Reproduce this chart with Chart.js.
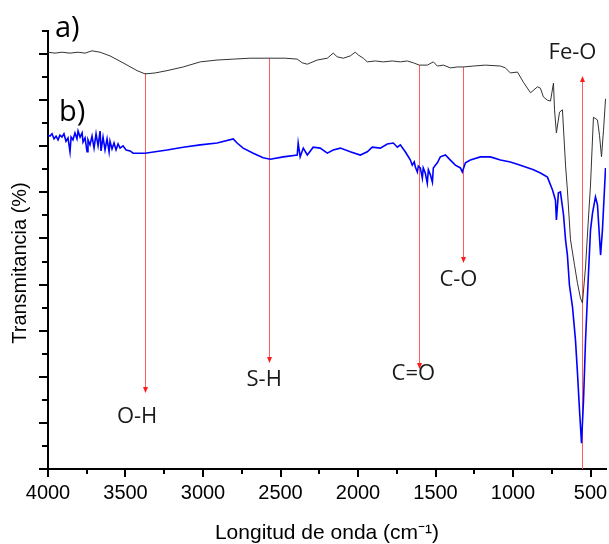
<!DOCTYPE html>
<html><head><meta charset="utf-8">
<script src="https://cdn.jsdelivr.net/npm/chart.js@4.4.0/dist/chart.umd.min.js"></script>
<style>html,body{margin:0;padding:0;background:#fff}#wrap{width:609px;height:544px}</style>
</head><body><div id="wrap"><canvas id="c" width="609" height="544"></canvas></div>
<script>
// ---- data ----
const xTickValues = [4000,3500,3000,2500,2000,1500,1000,500];
const xMinorTicks = [3750,3250,2750,2250,1750,1250,750];
const yMajorTicks = [0,10,20,30,40,50,60,70,80,90];
const yMinorTicks = [5,15,25,35,45,55,65,75,85,95];
const seriesLabels = ['a)','b)'];

// spectrum a) (black)
const wnA = [4000,3955,3910,3858,3806,3761,3716,3664,3632,3600,3516,3425,3374,3309,3232,3128,3018,2909,2805,2696,2573,2470,2392,2360,2327,2263,2198,2160,2134,2095,2050,2018,1998,1966,1940,1888,1837,1779,1727,1682,1643,1604,1553,1514,1488,1449,1404,1359,1320,1256,1178,1081,1049,1017,971,933,887,842,823,804,778,758,739,732,720,700,681,661,649,629,603,584,565,552,532,519,500,481,455,442,429,416,403];
const tA  = [90.4,90.2,90.4,90.2,90.4,90.2,90.7,90.4,90.0,89.6,88.1,86.4,85.7,85.9,86.4,87.2,88.3,88.7,88.9,89.1,89.1,89.1,88.9,88.1,87.8,88.7,89.1,90.2,89.4,89.1,89.6,90.4,89.8,89.1,88.3,88.5,88.3,88.5,88.3,88.5,88.1,87.6,87.6,88.3,87.4,87.6,87.0,87.2,87.2,87.4,87.6,87.4,87.0,85.9,86.1,83.9,81.6,82.9,82.6,80.7,80.0,79.8,83.7,77.9,72.9,77.4,77.9,65.9,60.5,49.7,44.2,40.3,37.1,36.0,43.8,51.2,61.6,76.3,75.7,72.4,67.7,73.5,80.3];

// spectrum b) (blue)
const wnB = [4000,3987,3974,3961,3948,3935,3923,3910,3897,3884,3871,3858,3851,3839,3826,3813,3806,3793,3780,3774,3761,3748,3742,3729,3716,3703,3690,3677,3664,3658,3645,3632,3619,3606,3600,3587,3574,3561,3548,3535,3516,3496,3470,3451,3374,3232,3128,3018,2909,2805,2780,2741,2676,2612,2566,2482,2392,2386,2373,2353,2327,2289,2244,2198,2160,2114,2050,1985,1940,1908,1856,1811,1772,1746,1727,1695,1662,1650,1637,1630,1617,1611,1598,1585,1579,1566,1553,1546,1533,1520,1514,1501,1488,1469,1436,1404,1372,1339,1327,1307,1275,1210,1146,1081,1017,952,868,823,778,745,726,720,707,694,674,661,649,636,616,597,584,571,558,545,532,513,500,487,468,455,435,423,403];
const tB  = [72.4,72.2,72.7,71.6,72.2,71.4,72.4,72.0,72.7,71.1,71.8,68.8,72.0,71.4,72.9,71.6,73.3,72.0,72.9,70.9,71.8,68.8,71.4,70.3,72.2,69.6,72.7,70.1,73.3,69.0,72.0,69.2,71.6,68.8,71.1,69.4,70.7,69.2,70.5,69.6,70.1,69.2,69.0,68.5,68.5,69.2,69.8,70.3,70.7,71.6,70.7,69.6,68.5,67.5,67.2,67.7,68.1,70.7,67.7,69.6,68.1,69.8,69.6,68.5,69.2,69.6,68.8,68.1,68.8,69.8,69.6,70.5,70.7,69.8,70.3,68.8,67.0,65.9,66.6,65.5,64.4,65.7,65.3,63.1,65.3,64.2,62.0,64.9,63.8,62.2,65.3,65.9,66.4,67.7,68.1,67.0,65.9,65.3,64.4,66.4,67.0,67.7,67.7,67.0,66.6,65.9,64.9,64.2,63.3,60.5,58.3,54.0,59.9,60.1,55.1,49.7,46.4,39.9,35.1,28.0,20.8,12.8,5.6,15.0,28.0,42.5,51.8,55.5,59.0,57.3,46.4,51.8,65.3];

// band assignments (arrows)
const bandLabels = ['O-H','S-H','C=O','C-O','Fe-O'];
const bandWn     = [3374, 2573, 1604, 1320, 558];
const bandFrom   = [85.9, 89.1, 87.6, 87.2, 0];
const bandTo     = [16.7, 23.2, 21.9, 44.9, 85.0];
const bandLabelWn = [3425, 2605, 1643, 1352, 616];
const bandLabelT  = [11.3, 19.3, 20.6, 41.0, 90.2];
const seriesLabelWn = [3955, 3929];
const seriesLabelT  = [93.7, 75.5];

const toXY = (xs, ys) => xs.map((x, i) => ({x: x, y: ys[i]}));

const decor = {
  id: 'decor',
  beforeDatasetsDraw(chart) {
    const {ctx, scales: {x, y}} = chart;
    ctx.save();
    for (let i = 0; i < bandWn.length; i++) {
      const px = Math.round(x.getPixelForValue(bandWn[i])) + 0.5;
      const y0 = y.getPixelForValue(bandFrom[i]);
      const y1 = y.getPixelForValue(bandTo[i]);
      ctx.strokeStyle = '#ff5c5c';
      ctx.lineWidth = 1;
      ctx.beginPath(); ctx.moveTo(px, y0); ctx.lineTo(px, y1); ctx.stroke();
      const dir = y1 > y0 ? 1 : -1;
      ctx.fillStyle = '#ff1a1a';
      ctx.beginPath();
      ctx.moveTo(px, y1 + dir * 1);
      ctx.lineTo(px - 2.5, y1 - dir * 5);
      ctx.lineTo(px + 2.5, y1 - dir * 5);
      ctx.closePath(); ctx.fill();
    }
    ctx.restore();
  },
  afterDraw(chart) {
    const {ctx, chartArea: ca, scales: {x, y}} = chart;
    ctx.save();
    ctx.strokeStyle = '#000';
    ctx.lineWidth = 2;
    const xt = (v, len) => { const p = Math.round(x.getPixelForValue(v)); ctx.beginPath(); ctx.moveTo(p, ca.bottom); ctx.lineTo(p, ca.bottom + len); ctx.stroke(); };
    const yt = (v, len) => { const p = Math.round(y.getPixelForValue(v)); ctx.beginPath(); ctx.moveTo(ca.left, p); ctx.lineTo(ca.left - len, p); ctx.stroke(); };
    xTickValues.forEach(v => xt(v, 8));
    xMinorTicks.forEach(v => xt(v, 5));
    yMajorTicks.forEach(v => yt(v, 9));
    yMinorTicks.forEach(v => yt(v, 6));
    // band labels
    ctx.fillStyle = '#1a1a1a';
    ctx.font = '22px "Open Sans"';
    ctx.textAlign = 'center';
    ctx.textBaseline = 'middle';
    for (let i = 0; i < bandLabels.length; i++) {
      ctx.fillText(bandLabels[i], x.getPixelForValue(bandLabelWn[i]), y.getPixelForValue(bandLabelT[i]));
    }
    // series labels
    ctx.font = '29px "Open Sans"';
    ctx.textAlign = 'left';
    ctx.textBaseline = 'alphabetic';
    ctx.fillStyle = '#000';
    for (let i = 0; i < seriesLabels.length; i++) {
      ctx.fillText(seriesLabels[i], x.getPixelForValue(seriesLabelWn[i]), y.getPixelForValue(seriesLabelT[i]));
    }
    // y title
    ctx.translate(20, 263);
    ctx.rotate(-Math.PI / 2);
    ctx.font = '20px "Liberation Sans"';
    ctx.textAlign = 'center';
    ctx.textBaseline = 'middle';
    ctx.fillText('Transmitancia (%)', 0, 0);
    ctx.restore();
  }
};

new Chart(document.getElementById('c'), {
  type: 'line',
  data: {
    datasets: [
      { label: seriesLabels[0], data: toXY(wnA, tA), borderColor: '#333333', borderWidth: 1, pointRadius: 0, tension: 0 },
      { label: seriesLabels[1], data: toXY(wnB, tB), borderColor: '#0000ff', borderWidth: 1.6, pointRadius: 0, tension: 0 }
    ]
  },
  options: {
    responsive: false,
    animation: false,
    devicePixelRatio: 1,
    layout: { padding: { top: 31, right: 3, left: 0, bottom: 0 } },
    plugins: { legend: { display: false }, tooltip: { enabled: false } },
    scales: {
      x: {
        type: 'linear', reverse: true, min: 400, max: 4000,
        afterBuildTicks: s => { s.ticks = xTickValues.map(v => ({value: v})); },
        afterFit: s => { s.height = 75; s.paddingLeft = 0; s.paddingRight = 0; },
        grid: { display: false, drawTicks: false },
        border: { display: true, color: '#000', width: 2 },
        ticks: { color: '#000', font: { family: 'Liberation Sans', size: 20 }, padding: 12, maxRotation: 0, autoSkip: false,
                 callback: v => String(v) },
        title: { display: true, text: 'Longitud de onda (cm⁻¹)', color: '#000', font: { family: 'Liberation Sans', size: 21 }, padding: { top: 0, bottom: -2 } }
      },
      y: {
        type: 'linear', min: 0, max: 95,
        afterFit: s => { s.width = 48; },
        grid: { display: false, drawTicks: false },
        border: { display: true, color: '#000', width: 2 },
        ticks: { display: false }
      }
    }
  },
  plugins: [decor]
});
</script>
</body></html>
